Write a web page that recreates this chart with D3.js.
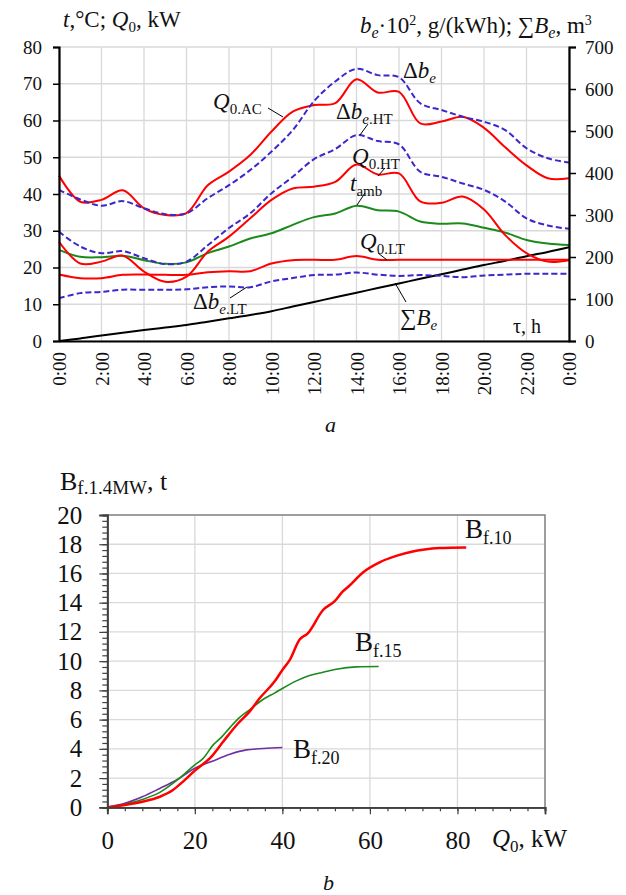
<!DOCTYPE html>
<html>
<head>
<meta charset="utf-8">
<script src="https://cdn.jsdelivr.net/npm/d3@7"></script>
<style>
  body { margin: 0; background: #fff; }
  svg { display: block; }
  svg text { font-family: "Liberation Serif", "Times New Roman", serif; }
</style>
</head>
<body>
<svg id="chart" width="626" height="895"></svg>
<script>
// ---------- Chart (a): daily profiles ----------
const hours = [0,1,2,3,4,5,6,7,8,9,10,11,12,13,14,15,16,17,18,19,20,21,22,23,24];
const hourTicks = [0,2,4,6,8,10,12,14,16,18,20,22,24];
const hourLabels = ["0:00","2:00","4:00","6:00","8:00","10:00","12:00","14:00","16:00","18:00","20:00","22:00","0:00"];
const leftTicks = [0,10,20,30,40,50,60,70,80];
const rightTicks = [0,100,200,300,400,500,600,700];

// left axis (t, °C; Q0, kW)
const q0AC = [45, 37.9, 38.4, 41, 36.1, 34.3, 34.8, 42.4, 46.1, 50.6, 57, 62.4, 64.2, 64.7, 71.2, 67.6, 67.8, 59.2, 59.7, 61, 58, 52.7, 47.8, 44.3, 44.3];
const q0HT = [27, 21.1, 21.6, 23.2, 18.9, 16.1, 17.5, 24.3, 28.4, 33.4, 38.4, 41.5, 42, 43.3, 48, 45.3, 45.6, 38, 37.6, 39.3, 35.8, 28.8, 23.9, 21.6, 22];
const tAmb = [24.8, 22.9, 22.8, 23.2, 22, 21, 21.4, 23.9, 25.7, 27.9, 29.3, 31.6, 33.7, 34.7, 36.8, 35.6, 35.2, 32.5, 31.9, 32, 30.8, 29.5, 27.5, 26.5, 26.1];
const q0LT = [18.1, 17.1, 17.1, 18, 18.1, 18, 18, 18.7, 19, 19, 21.1, 22, 22.1, 22.1, 23.1, 22.1, 22.1, 22.1, 22.1, 22.1, 22.1, 22.1, 22.1, 22.1, 22.1];
// right axis (b_e·10², g/(kWh); ΣB_e, m³)
const dbE   = [360, 337, 322, 333, 316, 302, 304, 340, 371, 407, 451, 502, 571, 618, 648, 633, 628, 566, 550, 534, 522, 502, 459, 435, 425];
const dbEHT = [260, 225, 209, 214, 197, 183, 189, 228, 269, 304, 352, 391, 433, 457, 490, 476, 468, 403, 391, 375, 360, 332, 292, 275, 267];
const dbELT = [102, 114, 117, 122, 122, 122, 123, 128, 130, 128, 142, 150, 157, 158, 163, 158, 155, 157, 155, 152, 156, 158, 160, 160, 160];
const sumBe = [0, 6, 13, 19.5, 26, 32, 38, 46, 54, 62, 71, 82, 93, 104, 115, 126, 137, 148, 159, 170, 181, 191, 202, 212, 223];

// ---------- Chart (b): fuel consumption ----------
const bTicksY = [0,2,4,6,8,10,12,14,16,18,20];
const bTicksX = [0,20,40,60,80,100];
const qf10 = [0, 4, 8, 12, 15, 17.3, 20, 23.8, 26.5, 29.9, 32.5, 34.8, 38.2, 40, 41.7, 43.9, 45.8, 49.3, 51.9, 53.8, 55.3, 58.4, 62.2, 66, 69.8, 72.1, 75.9, 82];
const bf10 = [0, 0.16, 0.38, 0.72, 1.18, 1.76, 2.51, 3.47, 4.5, 5.75, 6.55, 7.46, 8.6, 9.4, 10.09, 11.46, 11.9, 13.5, 14.09, 14.77, 15.16, 16.07, 16.76, 17.2, 17.5, 17.62, 17.74, 17.78];
const qf15 = [0, 4, 8, 12, 16, 20, 21.9, 24.2, 26.1, 28, 30.3, 32.5, 36, 38.2, 40.1, 43.2, 46.2, 49.3, 52.3, 56.9, 62];
const bf15 = [0, 0.2, 0.54, 1.02, 1.87, 2.9, 3.35, 4.27, 4.8, 5.45, 6.17, 6.67, 7.46, 7.81, 8.15, 8.65, 9.02, 9.24, 9.45, 9.61, 9.63];
const qf20 = [0, 4, 8, 12, 16, 20, 23.8, 28, 31.8, 35.6, 40];
const bf20 = [0, 0.27, 0.72, 1.29, 1.9, 2.67, 3.13, 3.63, 3.93, 4.02, 4.09];

const RED = "#ff0000", BLUE = "#3a28cc", GREEN = "#1b8a1b", PURPLE = "#7030a0";
const GRID = "#d9d9d9";
const SERIF = "'Liberation Serif', 'Times New Roman', serif";

const svg = d3.select("#chart");

// ================= Chart (a) =================
const xT = d3.scaleLinear().domain([0, 24]).range([59, 569]);
const yL = d3.scaleLinear().domain([0, 80]).range([341, 47]);
const yR = d3.scaleLinear().domain([0, 700]).range([341, 47]);

const gA = svg.append("g");
gA.append("g").selectAll("line").data(hourTicks).join("line")
  .attr("x1", d => xT(d)).attr("x2", d => xT(d)).attr("y1", yL(0)).attr("y2", yL(80))
  .attr("stroke", GRID).attr("stroke-width", 1.3);
gA.append("g").selectAll("line").data(leftTicks).join("line")
  .attr("x1", xT(0)).attr("x2", xT(24)).attr("y1", d => yL(d)).attr("y2", d => yL(d))
  .attr("stroke", GRID).attr("stroke-width", 1.3);

const lineL = arr => d3.line().x((d, i) => xT(hours[i])).y(d => yL(d)).curve(d3.curveCatmullRom.alpha(0.5))(arr);
const lineR = arr => d3.line().x((d, i) => xT(hours[i])).y(d => yR(d)).curve(d3.curveCatmullRom.alpha(0.5))(arr);

const seriesA = [
  { d: lineR(sumBe), c: "#000", dash: null },
  { d: lineR(dbELT), c: BLUE, dash: "6,3" },
  { d: lineL(q0LT), c: RED, dash: null },
  { d: lineL(tAmb), c: GREEN, dash: null },
  { d: lineL(q0HT), c: RED, dash: null },
  { d: lineR(dbEHT), c: BLUE, dash: "6,3" },
  { d: lineL(q0AC), c: RED, dash: null },
  { d: lineR(dbE), c: BLUE, dash: "6,3" }
];
gA.append("g").selectAll("path").data(seriesA).join("path")
  .attr("d", s => s.d).attr("fill", "none").attr("stroke", s => s.c)
  .attr("stroke-width", 2).attr("stroke-dasharray", s => s.dash);

const axL = gA.append("g").attr("transform", `translate(${xT(0)},0)`)
  .call(d3.axisLeft(yL).tickValues(leftTicks).tickSize(6).tickPadding(11).tickFormat(d3.format("d")));
const axR = gA.append("g").attr("transform", `translate(${xT(24)},0)`)
  .call(d3.axisRight(yR).tickValues(rightTicks).tickSize(7).tickPadding(9).tickFormat(d3.format("d")));
const axB = gA.append("g").attr("transform", `translate(0,${yL(0)})`)
  .call(d3.axisBottom(xT).tickValues(hourTicks).tickSize(0).tickFormat((d, i) => hourLabels[i]));
[axL, axR, axB].forEach(a => {
  a.attr("font-family", SERIF).attr("font-size", 19);
  a.select(".domain").attr("stroke", "#000").attr("stroke-width", 2.2);
  a.selectAll(".tick line").attr("stroke", "#000").attr("stroke-width", 1.5);
  a.selectAll("text").attr("fill", "#111").style("font-family", SERIF);
});
axB.selectAll("text")
  .attr("transform", "rotate(-90)").attr("x", -11).attr("y", 0).attr("dy", "0.35em")
  .style("text-anchor", "end");

function label(g, x, y, parts, size) {
  const t = g.append("text").attr("x", x).attr("y", y).attr("fill", "#111")
    .attr("font-family", SERIF).attr("font-size", size);
  parts.forEach(p => {
    const ts = t.append("tspan").text(p.t);
    if (p.i) ts.attr("font-style", "italic");
    if (p.s) ts.attr("font-size", p.s);
    if (p.dy) ts.attr("dy", p.dy);
  });
  return t;
}
function leader(g, x1, y1, x2, y2) {
  g.append("line").attr("x1", x1).attr("y1", y1).attr("x2", x2).attr("y2", y2)
    .attr("stroke", "#000").attr("stroke-width", 1);
}

label(gA, 63, 27, [{t:"t", i:1}, {t:",°C; "}, {t:"Q", i:1}, {t:"0", s:15, dy:5}, {t:", kW", dy:-5}], 23);
label(gA, 360, 33, [{t:"b", i:1}, {t:"e", i:1, s:16, dy:5}, {t:"·10", dy:-5}, {t:"2", s:14, dy:-8}, {t:", g/(kWh); ∑", dy:8}, {t:"B", i:1}, {t:"e", i:1, s:16, dy:5}, {t:", m", dy:-5}, {t:"3", s:14, dy:-8}], 23);

label(gA, 213, 109, [{t:"Q", i:1}, {t:"0.AC", s:15, dy:5}], 23);
leader(gA, 268, 108, 283, 117);
label(gA, 403, 78, [{t:"Δ"}, {t:"b", i:1}, {t:"e", i:1, s:15, dy:5}], 23);
label(gA, 336, 119, [{t:"Δ"}, {t:"b", i:1}, {t:"e", i:1, s:15, dy:5}, {t:".HT", s:15}], 23);
leader(gA, 368, 124, 360, 135);
label(gA, 352, 164, [{t:"Q", i:1}, {t:"0.HT", s:15, dy:5}], 23);
leader(gA, 385, 168, 378, 176);
label(gA, 350, 191, [{t:"t", i:1}, {t:"amb", s:15, dy:5}], 23);
leader(gA, 365, 193, 357, 205);
label(gA, 360, 249, [{t:"Q", i:1}, {t:"0.LT", s:15, dy:5}], 23);
leader(gA, 378, 253, 387, 260);
label(gA, 400, 325, [{t:"∑"}, {t:"B", i:1}, {t:"e", i:1, s:15, dy:5}], 23);
leader(gA, 406, 302, 395, 283);
label(gA, 193, 309, [{t:"Δ"}, {t:"b", i:1}, {t:"e", i:1, s:15, dy:5}, {t:".LT", s:15}], 23);
leader(gA, 230, 298, 247, 287);
label(gA, 513, 333, [{t:"τ, h"}], 20);
label(gA, 325, 432, [{t:"a", i:1}], 22);

// ================= Chart (b) =================
const xB = d3.scaleLinear().domain([0, 100]).range([107.3, 545]);
const yB = d3.scaleLinear().domain([0, 20]).range([807.3, 515]);
const gB = svg.append("g");

gB.append("g").selectAll("line").data([20,40,60,80]).join("line")
  .attr("x1", d => xB(d)).attr("x2", d => xB(d)).attr("y1", yB(0)).attr("y2", yB(20))
  .attr("stroke", GRID).attr("stroke-width", 1.3);
gB.append("g").selectAll("line").data([2,4,6,8,10,12,14,16,18]).join("line")
  .attr("x1", xB(0)).attr("x2", xB(100)).attr("y1", d => yB(d)).attr("y2", d => yB(d))
  .attr("stroke", GRID).attr("stroke-width", 1.3);
gB.append("path")
  .attr("d", `M${xB(0)},${yB(20)}H${xB(100)}V${yB(0)}`)
  .attr("fill", "none").attr("stroke", "#7f7f7f").attr("stroke-width", 1.5);

const lineB = (qs, bs) => d3.line().x((d, i) => xB(qs[i])).y(d => yB(d)).curve(d3.curveMonotoneX)(bs);
const seriesB = [
  { d: lineB(qf20, bf20), c: PURPLE, w: 1.6 },
  { d: lineB(qf15, bf15), c: GREEN, w: 1.6 },
  { d: lineB(qf10, bf10), c: RED, w: 2.5 }
];
gB.append("g").selectAll("path").data(seriesB).join("path")
  .attr("d", s => s.d).attr("fill", "none").attr("stroke", s => s.c).attr("stroke-width", s => s.w);

const minorY = d3.range(0, 20.001, 0.4);
const minorX = d3.range(0, 100.001, 4);
const axBLm = gB.append("g").attr("transform", `translate(${xB(0)},0)`)
  .call(d3.axisLeft(yB).tickValues(minorY).tickSize(5).tickFormat(""));
const axBBm = gB.append("g").attr("transform", `translate(0,${yB(0)})`)
  .call(d3.axisBottom(xB).tickValues(minorX).tickSize(4).tickFormat(""));
const axBL = gB.append("g").attr("transform", `translate(${xB(0)},0)`)
  .call(d3.axisLeft(yB).tickValues(bTicksY).tickSize(8).tickPadding(17).tickFormat(d3.format("d")));
const axBB = gB.append("g").attr("transform", `translate(0,${yB(0)})`)
  .call(d3.axisBottom(xB).tickValues(bTicksX).tickSize(7).tickPadding(17).tickFormat(d => d === 100 ? "" : d));
[axBLm, axBBm, axBL, axBB].forEach(a => {
  a.attr("font-family", SERIF).attr("font-size", 25);
  a.select(".domain").attr("stroke", "#404040").attr("stroke-width", 1.8);
  a.selectAll(".tick line").attr("stroke", "#404040").attr("stroke-width", 1.2);
  a.selectAll("text").attr("fill", "#111").style("font-family", SERIF);
});

label(gB, 60, 490, [{t:"B"}, {t:"f.1.4MW", s:19, dy:4}, {t:", t", dy:-4}], 26);
label(gB, 465, 538, [{t:"B"}, {t:"f.10", s:18, dy:6}], 27);
label(gB, 355, 651, [{t:"B"}, {t:"f.15", s:18, dy:6}], 27);
label(gB, 293, 758, [{t:"B"}, {t:"f.20", s:18, dy:6}], 27);
label(gB, 492, 847, [{t:"Q", i:1}, {t:"0", s:17, dy:5}, {t:", kW", dy:-5}], 25);
label(gB, 323, 890, [{t:"b", i:1}], 22);
</script>
</body>
</html>
